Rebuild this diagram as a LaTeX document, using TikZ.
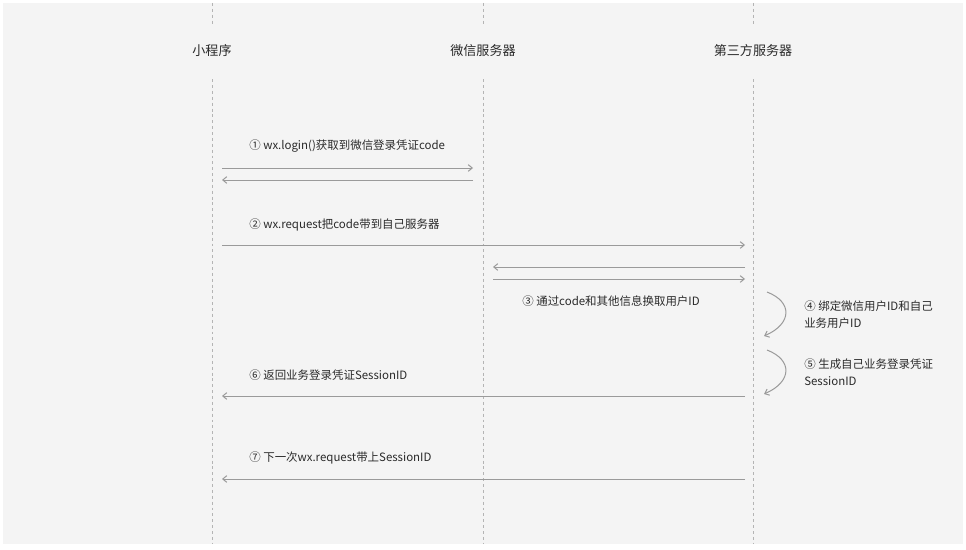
\documentclass[tikz,border=0pt]{standalone}
\usepackage{fontspec}
\setmainfont{Noto Sans CJK SC}
\usetikzlibrary{arrows.meta}
\definecolor{bgc}{HTML}{F4F4F4}
\definecolor{linec}{HTML}{9A9A9A}
\definecolor{dashc}{HTML}{B4B4B4}
\definecolor{txtc}{HTML}{2A2A2A}
\tikzset{
  lifeline/.style={draw=dashc,line width=0.6pt,dash pattern=on 2.2pt off 2.2pt},
  actor/.style={fill=bgc,text=txtc,inner xsep=4pt,inner ysep=14pt,font=\fontsize{9.8}{12}\selectfont},
  msg/.style={draw=linec,line width=0.75pt,-{Straight Barb[length=3pt,width=5pt]}},
  lbl/.style={text=txtc,anchor=west,inner sep=0pt,font=\fontsize{8.6}{12.2}\selectfont},
  note/.style={lbl,anchor=north west,align=left}
}
\begin{document}
\begin{tikzpicture}[x=0.75pt,y=-0.75pt]
\useasboundingbox (0,0) rectangle (966,549);
\fill[bgc] (3,3) rectangle (963,544);

% lifelines
\foreach \nm/\xx in {mp/212,wx/483,tp/753}{
  \coordinate (\nm top) at (\xx,3);
  \coordinate (\nm bot) at (\xx,544);
  \draw[lifeline] (\nm top) -- (\nm bot);
}
\node[actor] (mp) at (212,51) {小程序};
\node[actor] (wx) at (483,51) {微信服务器};
\node[actor] (tp) at (753,51) {第三方服务器};

% message end points
\coordinate (m1a) at (222,168); \coordinate (m1b) at (473,168);
\coordinate (m1c) at (473,180); \coordinate (m1d) at (222,180);
\coordinate (m2a) at (222,245); \coordinate (m2b) at (745,245);
\coordinate (m3a) at (745,267); \coordinate (m3b) at (493,267);
\coordinate (m3c) at (493,279); \coordinate (m3d) at (745,279);
\coordinate (m4a) at (767,292); \coordinate (m4b) at (764,336);
\coordinate (m5a) at (767,350); \coordinate (m5b) at (764,394);
\coordinate (m6a) at (745,396); \coordinate (m6b) at (222,396);
\coordinate (m7a) at (745,479); \coordinate (m7b) at (222,479);

% step 1
\node[lbl] (s1) at (249,146) {① wx.login()获取到微信登录凭证code};
\draw[msg] (m1a) -- (m1b);
\draw[msg] (m1c) -- (m1d);

% step 2
\node[lbl] (s2) at (249,225) {② wx.request把code带到自己服务器};
\draw[msg] (m2a) -- (m2b);

% step 3
\draw[msg] (m3a) -- (m3b);
\draw[msg] (m3c) -- (m3d);
\node[lbl] (s3) at (522,301) {③ 通过code和其他信息换取用户ID};

% steps 4 and 5
\draw[msg] (m4a) .. controls (793,302) and (792,324) .. (m4b);
\node[note] (s4) at (804,301) {④ 绑定微信用户ID和自己\\业务用户ID};
\draw[msg] (m5a) .. controls (793,360) and (792,382) .. (m5b);
\node[note] (s5) at (804,359) {⑤ 生成自己业务登录凭证\\SessionID};

% step 6
\node[lbl] (s6) at (249,375) {⑥ 返回业务登录凭证SessionID};
\draw[msg] (m6a) -- (m6b);

% step 7
\node[lbl] (s7) at (249,458) {⑦ 下一次wx.request带上SessionID};
\draw[msg] (m7a) -- (m7b);
\end{tikzpicture}
\end{document}
